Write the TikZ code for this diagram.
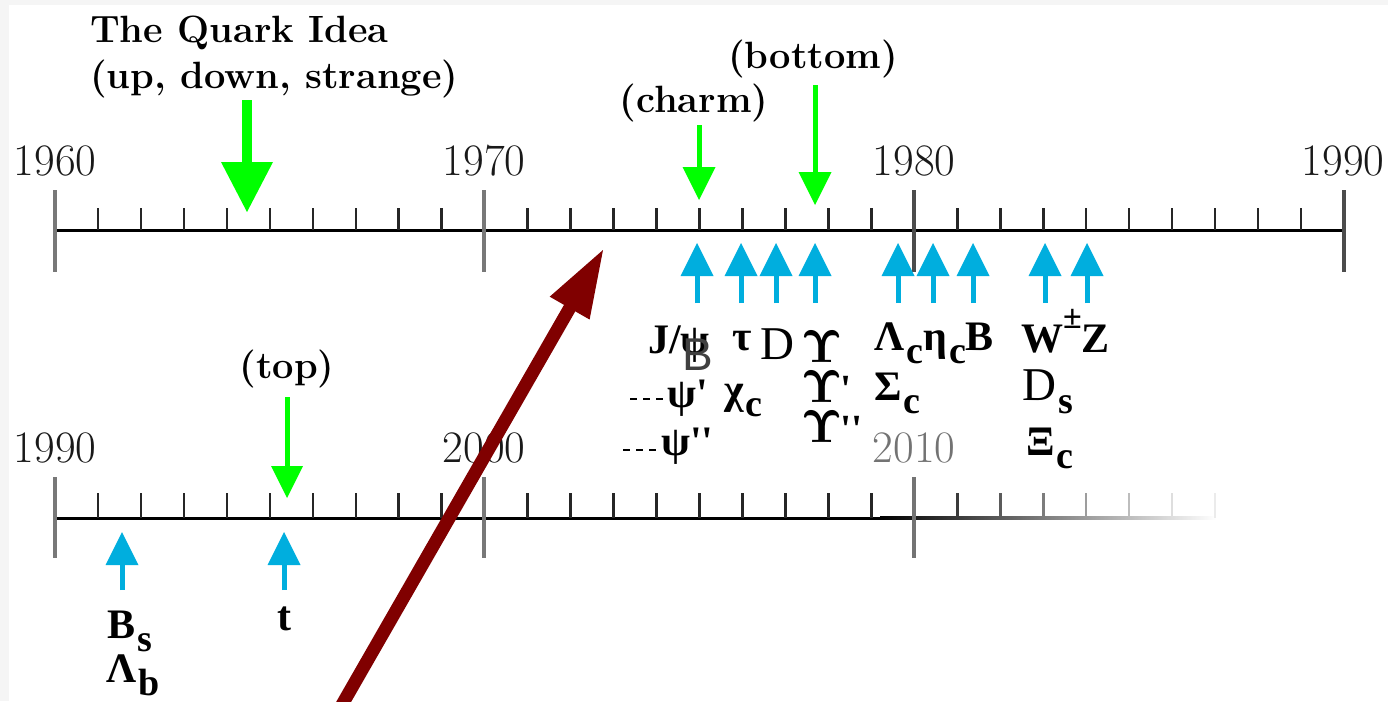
\documentclass[tikz,border=0pt]{standalone}
\usepackage[no-math]{fontspec}
\usetikzlibrary{calc}
\newfontfamily\lsf{Liberation Serif}
\newfontfamily\lsans{Liberation Sans}
\definecolor{qgreen}{RGB}{0,255,0}
\definecolor{qblue}{RGB}{0,174,222}
\definecolor{qred}{RGB}{128,0,0}
\definecolor{majgray}{RGB}{120,120,120}
\newcommand\fs[1]{\fontsize{#1}{#1}\selectfont}
\newcommand\lo[1]{\hspace{2pt}\raisebox{-13pt}{\fs{38}#1}}
\newcommand\Ups{\scalebox{4.6}{\boldmath$\Upsilon$}}
\newcommand\qprime{\textquotesingle}
% vertical arrow: colour, x, tail y, tip y, head length, head width, shaft width
\newcommand\varr[7]{%
  \pgfmathsetmacro\hb{#4+ifthenelse(#3>#4,#5,-#5)}%
  \pgfmathsetmacro\hw{#6/2}%
  \draw[#1, line width=#7pt] (#2,#3) -- (#2,\hb);%
  \fill[#1] (#2-\hw,\hb) -- (#2+\hw,\hb) -- (#2,#4) -- cycle;}
\begin{document}
\begin{tikzpicture}[x=1pt,y=-1pt,
  year/.style={font=\fs{45}, inner sep=0, anchor=base, text=black!90},
  title/.style={font=\bfseries\fs{38}, inner sep=0},
  plab/.style={font=\lsf\bfseries\fs{42}, inner sep=0, anchor=base west},
  rlab/.style={font=\lsf\fs{47}, inner sep=0, anchor=base west},
  majtick/.style={line width=4pt},
  mintick/.style={line width=2.5pt, black!85},
  axis/.style={line width=3pt, black}]
\useasboundingbox (0,0) rectangle (1388,701);
\clip (0,0) rectangle (1388,701);
\fill[white] (0,0) rectangle (1388,701);
\fill[black!4] (0,0) rectangle (9,701);
\fill[black!4] (0,0) rectangle (1388,5);

% ---------- top timeline ----------
\draw[axis] (55,230) -- (1344,230);
\foreach \i in {1,...,29}{
  \pgfmathsetmacro\x{55+\i*42.967}
  \draw[mintick] (\x,208) -- (\x,230);}
\foreach \x/\c in {55/majgray,484/majgray,914/black!70,1344/black!70}
  \draw[majtick,\c] (\x,190) -- (\x,272);
\node[year] (y1960) at (55,175) {1960};
\node[year] (y1970) at (484,175) {1970};
\node[year] (y1980) at (914,175) {1980};
\node[year] (y1990) at (1343,175) {1990};

% ---------- bottom timeline ----------
\draw[axis] (55,518) -- (882,518);
\shade[left color=black, right color=white] (880,516.5) rectangle (1216,519.5);
\foreach \i in {1,...,19}{
  \pgfmathsetmacro\x{55+\i*42.967}
  \draw[mintick] (\x,493) -- (\x,518);}
\foreach \i in {21,...,27}{
  \pgfmathsetmacro\x{55+\i*42.967}
  \pgfmathsetmacro\c{max(8,100-(\x-880)/336*100)}
  \draw[line width=2.5pt, black!\c] (\x,493) -- (\x,518);}
\foreach \x/\c in {55/majgray,484/majgray,914/black!55}
  \draw[majtick,\c] (\x,477) -- (\x,558);
\node[year] (b1990) at (55,462) {1990};
\node[year] (b2000) at (484,462) {2000};
\node[year, text=black!55] (b2010) at (914,462) {2010};

% ---------- titles ----------
\node[title, anchor=base west] (t1) at (90,43) {The Quark Idea};
\node[title, anchor=base west] (t2) at (90,88) {(up, down, strange)};
\node[title, anchor=base] (charm) at (694,112) {(charm)};
\node[title, anchor=base] (bottom) at (813,68) {(bottom)};
\node[title, anchor=base] (top) at (287,378) {(top)};

% ---------- green arrows ----------
\varr{qgreen}{247}{100}{212}{50}{52}{10}
\varr{qgreen}{699}{125}{200}{33}{33}{5}
\varr{qgreen}{815}{85}{205}{33}{33}{5}
\varr{qgreen}{287}{397}{498}{32}{32}{5}

% ---------- blue arrows ----------
\foreach \x in {697,741,776,815,898,933,973,1045,1087}
  {\varr{qblue}{\x}{303}{243}{33}{33}{5}}
\foreach \x in {122,284}
  {\varr{qblue}{\x}{590}{532}{33}{33}{5}}

% ---------- particle labels ----------
\node[plab] (jpsi) at (648,353) {J/ψ};
\node[font=\lsans\fs{46}, text=black!75, inner sep=0] (bart) at (698,355) {B};
\node[plab] (tau) at (732,350) {τ};
\node[rlab] (dmes) at (760,359) {D};
\node[inner sep=0, anchor=base west] (ups1) at (801,362) {\Ups};
\node[inner sep=0, anchor=base west] (ups2) at (801,402) {\Ups\hspace{-2pt}\smash{\lsf\bfseries\fs{40}\qprime}};
\node[inner sep=0, anchor=base west] (ups3) at (801,442) {\Ups\hspace{-2pt}\smash{\lsf\bfseries\fs{40}\qprime\qprime}};
\coordinate (d1a) at (630,399); \coordinate (d1b) at (666,399);
\draw[line width=2.5pt, dash pattern=on 7pt off 6pt] (d1a) -- (d1b);
\node[plab] (psi1) at (667,407) {ψ\qprime};
\coordinate (d2a) at (623,450); \coordinate (d2b) at (661,450);
\draw[line width=2.5pt, dash pattern=on 7pt off 6pt] (d2a) -- (d2b);
\node[plab] (psi2) at (661,455) {ψ\qprime\qprime};
\node[plab] (chic) at (724,403) {χ\lo{c}};
\node[plab] (lamc) at (874,350) {Λ\lo{c}η\lo{c}B};
\node[plab] (sigc) at (874,400) {Σ\lo{c}};
\node[plab] (wz) at (1021,352) {W\raisebox{24pt}{\fs{34}±}Z};
\node[rlab] (dsub) at (1022,400) {D\lo{\bfseries s}};
\node[plab] (xic) at (1026,455) {Ξ\lo{c}};
\node[plab] (bsub) at (107,638) {B\lo{s}};
\node[plab] (lamb) at (106,682) {Λ\lo{b}};
\node[plab] (tq) at (277,630) {t};

% ---------- red arrow ----------
\coordinate (rtip) at (603,250);
\coordinate (rtail) at (339,710);
\coordinate (rbase) at ($(rtip)!67pt!(rtail)$);
\draw[qred, line width=13pt] (rtail) -- ($(rtip)!62pt!(rtail)$);
\fill[qred] (rtip) -- ($(rbase)!23pt!90:(rtip)$) -- ($(rbase)!23pt!-90:(rtip)$) -- cycle;
\end{tikzpicture}
\end{document}
